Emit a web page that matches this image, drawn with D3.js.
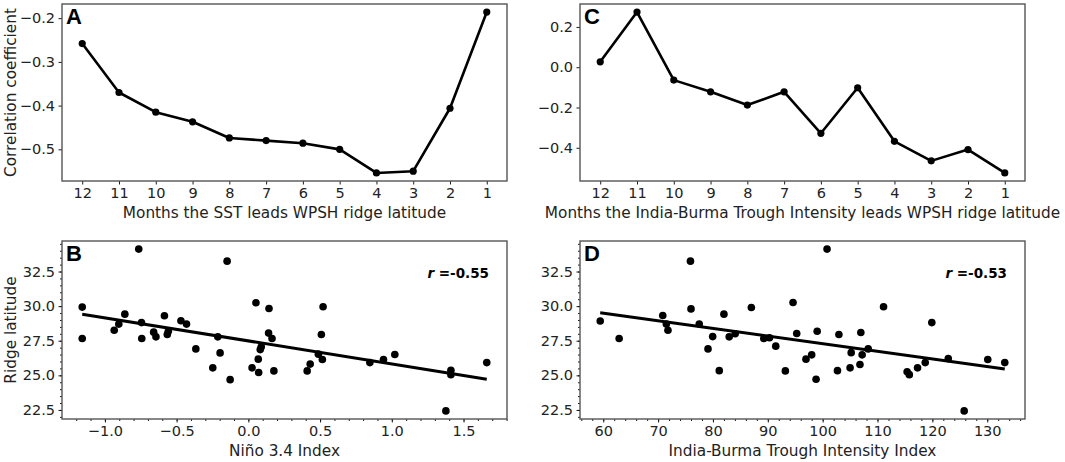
<!DOCTYPE html>
<html>
<head>
<meta charset="utf-8">
<script src="https://cdn.jsdelivr.net/npm/d3@7"></script>
<style>
  body { margin: 0; background: #fff; }
  text { font-family: "DejaVu Sans", sans-serif; }
</style>
</head>
<body>
<svg id="chart" width="1065" height="462"></svg>
<script>
// lead months (x categories of panels A and C)
const leadMonths = ["12", "11", "10", "9", "8", "7", "6", "5", "4", "3", "2", "1"];
// correlation of SST with WPSH ridge latitude
const sstCorr = [-0.258, -0.370, -0.415, -0.437, -0.474, -0.480, -0.486, -0.500, -0.554, -0.550, -0.406, -0.186];
// correlation of India-Burma Trough intensity with WPSH ridge latitude
const ibtCorr = [0.027, 0.274, -0.064, -0.122, -0.188, -0.122, -0.328, -0.102, -0.368, -0.465, -0.409, -0.525];

// panel B: Nino 3.4 index vs ridge latitude
const nino34 = [-1.158, -1.158, -0.935, -0.903, -0.861, -0.764, -0.745, -0.743, -0.660, -0.644, -0.585,
  -0.558, -0.565, -0.470, -0.431, -0.366, -0.213, -0.248, -0.197, -0.148, -0.127, 0.026, 0.053, 0.069,
  0.072, 0.083, 0.090, 0.144, 0.141, 0.165, 0.178, 0.410, 0.431, 0.488, 0.509, 0.516, 0.521, 0.847,
  0.942, 1.021, 1.412, 1.412, 1.377, 1.662];
const ridgeLatB = [29.93, 27.66, 28.26, 28.70, 29.42, 34.12, 28.81, 27.66, 28.12, 27.78, 29.30,
  28.19, 27.95, 28.94, 28.70, 26.91, 27.78, 25.54, 26.62, 33.25, 24.69, 25.54, 30.24, 26.17,
  25.20, 26.86, 27.06, 29.83, 28.05, 27.66, 25.32, 25.32, 25.81, 26.53, 27.95, 26.14, 29.95, 25.92,
  26.14, 26.50, 25.37, 25.05, 22.43, 25.92];

// panel D: India-Burma Trough intensity index vs ridge latitude
const ibtIndex = [59.45, 62.9, 70.85, 71.5, 71.8, 75.9, 76.0, 77.5, 79.95, 79.1, 81.15, 82.0, 82.96,
  84.05, 87.0, 89.27, 90.3, 91.45, 93.2, 94.6, 95.27, 96.96, 98.0, 98.8, 99.0, 100.8, 102.7, 102.96,
  105.0, 105.2, 106.8, 106.96, 107.2, 108.3, 111.1, 115.4, 115.8, 117.3, 118.7, 119.9, 122.9, 125.8,
  130.1, 133.2];
const ridgeLatD = [28.92, 27.66, 29.32, 28.70, 28.26, 33.25, 29.80, 28.70, 27.80, 26.91, 25.34, 29.42, 27.78,
  28.00, 29.90, 27.66, 27.71, 27.11, 25.32, 30.26, 28.02, 26.17, 26.48, 24.72, 28.19, 34.12, 25.34, 27.95,
  25.54, 26.64, 25.78, 28.09, 26.48, 26.91, 29.95, 25.25, 25.05, 25.54, 25.92, 28.81, 26.21, 22.43,
  26.14, 25.92];

const svg = d3.select("#chart");

// matplotlib style 5% margins
function padExtent(vals) {
  const e = d3.extent(vals), r = e[1] - e[0];
  return [e[0] - r * 0.05, e[1] + r * 0.05];
}

function styleAxis(g) {
  g.select(".domain").remove();
  g.selectAll(".tick line").attr("stroke", "#000").attr("stroke-width", 0.9);
  g.selectAll(".tick text").attr("fill", "#222").style("font-size", "14.5px");
}

function frame(p) {
  svg.append("rect")
    .attr("x", p.left).attr("y", p.top)
    .attr("width", p.right - p.left).attr("height", p.bottom - p.top)
    .attr("fill", "none").attr("stroke", "#555").attr("stroke-width", 1.4);
  svg.append("text")
    .attr("x", p.left + 4).attr("y", p.top + 20)
    .style("font-family", "'Liberation Sans', Arial, sans-serif")
    .style("font-weight", "bold").style("font-size", "22px")
    .text(p.letter);
}

function linePanel(p, values) {
  const x = d3.scaleLinear().domain([-0.55, 11.55]).range([p.left, p.right]);
  const y = d3.scaleLinear().domain(padExtent(values)).range([p.bottom, p.top]);

  svg.append("g").attr("transform", `translate(0,${p.bottom})`)
    .call(d3.axisBottom(x).tickValues(d3.range(12)).tickFormat(i => leadMonths[i])
      .tickSize(3.5).tickPadding(3.5))
    .call(styleAxis);
  svg.append("g").attr("transform", `translate(${p.left},0)`)
    .call(d3.axisLeft(y).tickValues(p.yTicks).tickFormat(d3.format(".1f"))
      .tickSize(3.5).tickPadding(3.5))
    .call(styleAxis);

  svg.append("path").datum(values)
    .attr("fill", "none").attr("stroke", "#000").attr("stroke-width", 2.6)
    .attr("stroke-linejoin", "round")
    .attr("d", d3.line().x((d, i) => x(i)).y(d => y(d)));
  svg.append("g").selectAll("circle").data(values).join("circle")
    .attr("cx", (d, i) => x(i)).attr("cy", d => y(d)).attr("r", 3.6).attr("fill", "#000");

  frame(p);
  svg.append("text")
    .attr("x", (p.left + p.right) / 2).attr("y", p.bottom + 37)
    .attr("text-anchor", "middle").style("font-size", "15.3px").attr("fill", "#222")
    .text(p.xLabel);
}

function scatterPanel(p, xs, ys) {
  const x = d3.scaleLinear().domain(padExtent(xs)).range([p.left, p.right]);
  const y = d3.scaleLinear().domain(padExtent(ys)).range([p.bottom, p.top]);

  // minor ticks
  svg.append("g").attr("transform", `translate(0,${p.bottom})`)
    .call(d3.axisBottom(x).tickValues(d3.range(p.xMinor[0], p.xMinor[1] + 1e-9, p.xMinor[2])
      .filter(v => v >= x.domain()[0] && v <= x.domain()[1])).tickSize(2).tickFormat(""))
    .call(styleAxis);
  svg.append("g").attr("transform", `translate(${p.left},0)`)
    .call(d3.axisLeft(y).tickValues(d3.range(p.yMinor[0], p.yMinor[1] + 1e-9, p.yMinor[2])
      .filter(v => v >= y.domain()[0] && v <= y.domain()[1])).tickSize(2).tickFormat(""))
    .call(styleAxis);
  // major ticks
  svg.append("g").attr("transform", `translate(0,${p.bottom})`)
    .call(d3.axisBottom(x).tickValues(p.xTicks).tickFormat(d3.format(p.xFmt))
      .tickSize(3.5).tickPadding(3.5))
    .call(styleAxis);
  svg.append("g").attr("transform", `translate(${p.left},0)`)
    .call(d3.axisLeft(y).tickValues(p.yTicks).tickFormat(d3.format(".1f"))
      .tickSize(3.5).tickPadding(3.5))
    .call(styleAxis);

  svg.append("g").selectAll("circle").data(xs).join("circle")
    .attr("cx", d => x(d)).attr("cy", (d, i) => y(ys[i])).attr("r", 3.8).attr("fill", "#000");

  // least squares fit
  const mx = d3.mean(xs), my = d3.mean(ys);
  const slope = d3.sum(xs, (d, i) => (d - mx) * (ys[i] - my)) / d3.sum(xs, d => (d - mx) * (d - mx));
  const x0 = d3.min(xs), x1 = d3.max(xs);
  svg.append("line")
    .attr("x1", x(x0)).attr("y1", y(my + slope * (x0 - mx)))
    .attr("x2", x(x1)).attr("y2", y(my + slope * (x1 - mx)))
    .attr("stroke", "#000").attr("stroke-width", 3);

  frame(p);
  const t = svg.append("text")
    .attr("x", p.right - 18).attr("y", p.top + 37)
    .attr("text-anchor", "end").style("font-size", "13.5px").style("font-weight", "bold");
  t.append("tspan").style("font-style", "italic").text("r");
  t.append("tspan").text(" =" + p.rText);

  svg.append("text")
    .attr("x", (p.left + p.right) / 2).attr("y", p.bottom + 37)
    .attr("text-anchor", "middle").style("font-size", "15.3px").attr("fill", "#222")
    .text(p.xLabel);
}

const colL = { left: 62, right: 507 }, colR = { left: 580, right: 1025 };
const rowT = { top: 4, bottom: 181 }, rowB = { top: 241, bottom: 419 };

linePanel({ ...colL, ...rowT, letter: "A", yTicks: [-0.5, -0.4, -0.3, -0.2],
  xLabel: "Months the SST leads WPSH ridge latitude" }, sstCorr);
linePanel({ ...colR, ...rowT, letter: "C", yTicks: [-0.4, -0.2, 0.0, 0.2],
  xLabel: "Months the India-Burma Trough Intensity leads WPSH ridge latitude" }, ibtCorr);

scatterPanel({ ...colL, ...rowB, letter: "B", xTicks: [-1.0, -0.5, 0.0, 0.5, 1.0, 1.5], xFmt: ".1f",
  xMinor: [-1.3, 1.8, 0.1], yTicks: [22.5, 25.0, 27.5, 30.0, 32.5], yMinor: [21.5, 35, 0.5],
  rText: "-0.55", xLabel: "Niño 3.4 Index" }, nino34, ridgeLatB);
scatterPanel({ ...colR, ...rowB, letter: "D", xTicks: [60, 70, 80, 90, 100, 110, 120, 130], xFmt: "d",
  xMinor: [56, 138, 2], yTicks: [22.5, 25.0, 27.5, 30.0, 32.5], yMinor: [21.5, 35, 0.5],
  rText: "-0.53", xLabel: "India-Burma Trough Intensity Index" }, ibtIndex, ridgeLatD);

// y axis titles
svg.append("text")
  .attr("transform", `translate(16,${(rowT.top + rowT.bottom) / 2}) rotate(-90)`)
  .attr("text-anchor", "middle").style("font-size", "15.3px").attr("fill", "#222")
  .text("Correlation coefficient");
svg.append("text")
  .attr("transform", `translate(16,${(rowB.top + rowB.bottom) / 2}) rotate(-90)`)
  .attr("text-anchor", "middle").style("font-size", "15.3px").attr("fill", "#222")
  .text("Ridge latitude");
</script>
</body>
</html>
